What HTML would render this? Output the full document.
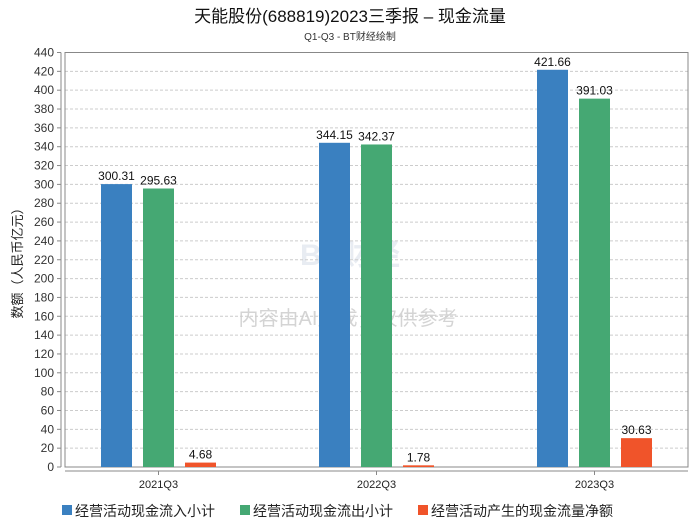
<!DOCTYPE html>
<html><head><meta charset="utf-8"><style>
body{margin:0;background:#fff;font-family:"Liberation Sans","Noto Sans CJK SC",sans-serif;}
svg text{font-family:"Liberation Sans","Noto Sans CJK SC",sans-serif;}
</style></head><body>
<svg id="c" width="700" height="524" xmlns="http://www.w3.org/2000/svg">
<text x="350" y="22" text-anchor="middle" font-size="17" fill="#111">天能股份(688819)2023三季报 – 现金流量</text>
<text x="350" y="40" text-anchor="middle" font-size="10" fill="#333" font-family="Liberation Mono,monospace">Q1-Q3 - BT财经绘制</text>
<text x="348" y="325" text-anchor="middle" font-size="20" fill="#d4d4d4">内容由AI生成，仅供参考</text>
<text x="350" y="265" text-anchor="middle" font-size="30" fill="#e8ecf2" font-weight="bold">BT财经</text>
<g id="grid"></g><g id="bars"></g>
<text transform="translate(22,260) rotate(-90)" text-anchor="middle" font-size="13" fill="#222">数额（人民币亿元）</text>
<g id="legend"></g>
</svg>
<script>
const categories=["2021Q3","2022Q3","2023Q3"];
const inflow=[300.31,344.15,421.66];
const outflow=[295.63,342.37,391.03];
const net=[4.68,1.78,30.63];
const seriesNames=["经营活动现金流入小计","经营活动现金流出小计","经营活动产生的现金流量净额"];
const colors=["#3a80c0","#45a873","#f0542a"];
const yTicks=[0,20,40,60,80,100,120,140,160,180,200,220,240,260,280,300,320,340,360,380,400,420,440];
const NS="http://www.w3.org/2000/svg";
const x0=65,x1=688,yTop=52.5,yBot=467,yMax=440;
const y=v=>yBot-(v/yMax)*(yBot-yTop);
const xc=i=>158.5+218*i;
function el(t,a,p){const e=document.createElementNS(NS,t);for(const k in a)e.setAttribute(k,a[k]);p.appendChild(e);return e;}
const g=document.getElementById('grid');
yTicks.forEach(t=>{
 const l=el('line',{x1:x0,x2:x1,y1:y(t),y2:y(t),stroke:'#ccc','stroke-dasharray':'3,2'},g);
 
 
 const tx=el('text',{x:54,y:y(t)+4,'text-anchor':'end','font-size':12,fill:'#333'},g);
 tx.textContent=t;
 
 
 el('line',{x1:57,x2:61,y1:y(t),y2:y(t),stroke:'#888'},g);
});
el('line',{x1:61,x2:61,y1:yTop,y2:yBot,stroke:'#888'},g);
el('rect',{x:x0,y:yTop,width:x1-x0,height:yBot-yTop,fill:'none',stroke:'#888'},g);
el('line',{x1:x0,x2:x1,y1:471,y2:471,stroke:'#888'},g);
const b=document.getElementById('bars');
const series=[inflow,outflow,net];
categories.forEach((c,i)=>{
 el('line',{x1:xc(i),x2:xc(i),y1:471,y2:475,stroke:'#888'},b);
 const t=el('text',{x:xc(i),y:488,'text-anchor':'middle','font-size':11,fill:'#222'},b);
 t.textContent=c;
 
 
 series.forEach((s,k)=>{
  const bx=xc(i)-57.5+42*k;
  const r=el('rect',{x:bx,y:y(s[i]),width:31,height:yBot-y(s[i]),fill:colors[k]},b);
  
  
  const lt=el('text',{x:bx+15.5,y:y(s[i])-4,'text-anchor':'middle','font-size':12,fill:'#111'},b);
  lt.textContent=s[i].toFixed(2);
  
  
 });
});
const lg=document.getElementById('legend');
const lx=[62,240,418];
seriesNames.forEach((n,k)=>{
 const r=el('rect',{x:lx[k],y:505,width:10,height:10,fill:colors[k]},lg);
 
 
 const t=el('text',{x:lx[k]+13,y:516,'font-size':14,fill:'#222'},lg);
 t.textContent=n;
 
 
});
</script>
</body></html>
